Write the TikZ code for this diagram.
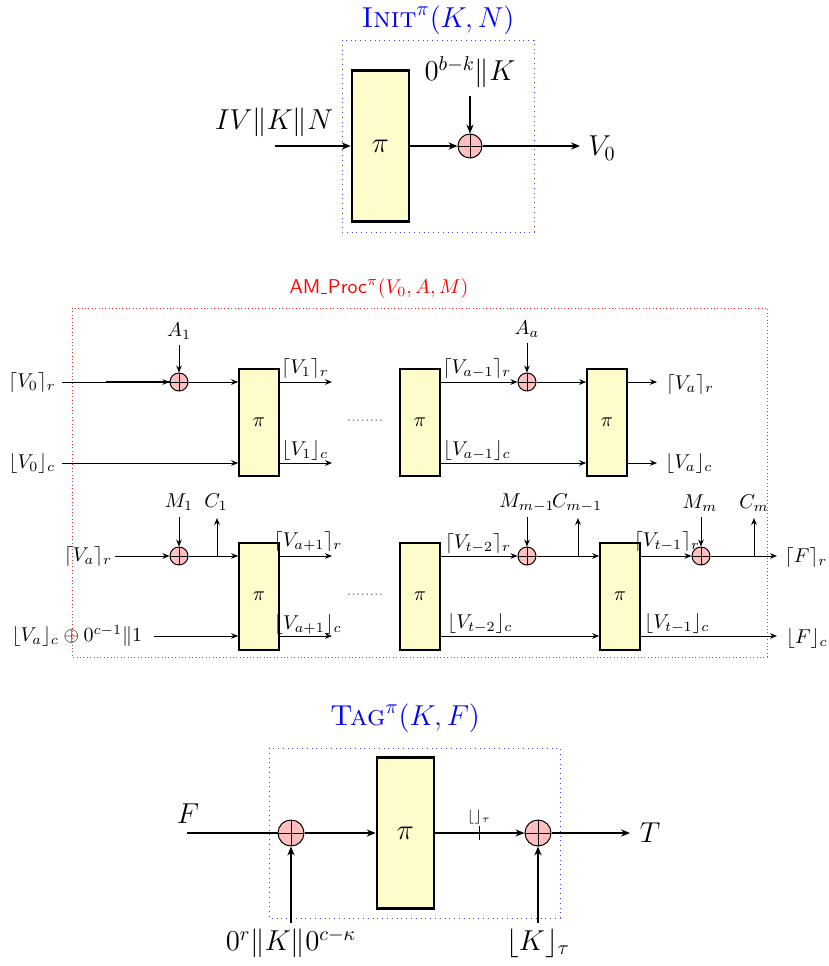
\documentclass[tikz,border=0pt]{standalone}
\usepackage{amsmath}
\usetikzlibrary{arrows.meta,calc}
\begin{document}
\begin{tikzpicture}[x=0.5pt,y=-0.5pt,
  >={Stealth[length=3.5pt,width=2.8pt]},
  pibig/.style={draw, line width=1.3pt, fill=yellow!20, minimum width=28.5pt, minimum height=75.5pt, inner sep=0pt, font=\Large},
  pismall/.style={draw, line width=0.8pt, fill=yellow!20, minimum width=20pt, minimum height=53.5pt, inner sep=0pt},
  xorbase/.style={circle, draw, line width=0.5pt, fill=red!25, inner sep=0pt,
    path picture={\draw[line width=0.5pt] (path picture bounding box.north) -- (path picture bounding box.south) (path picture bounding box.west) -- (path picture bounding box.east);}},
  xorbig/.style={xorbase, minimum size=12pt},
  xorsmall/.style={xorbase, minimum size=9pt},
  xortag/.style={xorbase, minimum size=13pt},
  bigconn/.style={->, line width=0.6pt, >={Stealth[length=4.5pt,width=3.6pt]}},
  bigline/.style={line width=0.6pt},
  conn/.style={->, line width=0.5pt},
  biglbl/.style={font=\Large, inner sep=1pt},
  lbl/.style={inner sep=1pt},
  bluebox/.style={draw=blue!75, line width=0.5pt, dash pattern=on 0.5pt off 1.9pt},
  redbox/.style={draw=red!85, line width=0.5pt, dash pattern=on 0.5pt off 1.2pt}
]
\useasboundingbox (0,0) rectangle (829,966);

% ================= INIT =================
\node[font=\Large, text=blue] (tI) at (438,20) {$\textsc{Init}^{\pi}(K,N)$};
\draw[bluebox] (342,40) rectangle (534,232);
\node[pibig] (piI) at (380.5,146) {$\pi$};
\coordinate (inI) at (275,146);
\node[biglbl] (lIn) at (274,122) {$IV\|K\|N$};
\draw[bigconn] (inI) -- (piI.west);
\node[xorbig] (xI) at (470,146) {};
\draw[bigconn] (piI.east) -- (xI.west);
\node[biglbl] (lK) at (470,72) {$0^{b-k}\|K$};
\coordinate (kI) at (470,96);
\draw[bigconn] (kI) -- (xI.north);
\coordinate (outI) at (580,146);
\draw[bigconn] (xI.east) -- (outI);
\node[biglbl] (lV0) at (602,148) {$V_0$};

% ================= AM_Proc =================
\node[text=red] (tA) at (379,288) {\textsf{AM\kern0.03em\rule[-0.15ex]{0.32em}{0.45pt}\kern0.03em Proc}$^{\pi}(V_0,A,M)$};
\draw[redbox] (72,308) rectangle (767,657);

% row 1
\node[pismall] (b1) at (259,422.5) {$\pi$};
\node[pismall] (b2) at (420,422.5) {$\pi$};
\node[pismall] (b3) at (607,422.5) {$\pi$};
\node[xorsmall] (x1) at (179,382) {};
\node[xorsmall] (x2) at (527,382) {};

\node[lbl] (lV0r) at (32,382) {$\lceil V_0\rceil_r$};
\node[lbl] (lV0c) at (32,463) {$\lfloor V_0\rfloor_c$};
\coordinate (r1in) at (62,382);
\coordinate (c1in) at (62,463);
\draw[conn] (r1in) -- (x1.west);
\draw[line width=0.7pt] (106,382) -- (x1.west);
\node[lbl] (lA1) at (179,331) {$A_1$};
\coordinate (a1) at (179,345);
\draw[conn] (a1) -- (x1.north);
\draw[conn] (x1.east) -- (x1 -| b1.west);
\draw[conn] (c1in) -- (c1in -| b1.west);
\coordinate (o1r) at (332,382);
\coordinate (o1c) at (332,463);
\draw[conn] (o1r -| b1.east) -- (o1r);
\draw[conn] (o1c -| b1.east) -- (o1c);
\node[lbl] (lV1r) at (305,368) {$\lceil V_1\rceil_r$};
\node[lbl] (lV1c) at (305,450) {$\lfloor V_1\rfloor_c$};
\node[font=\scriptsize, text=black!55] (dots1) at (365,421) {........};

\draw[conn] (x2 -| b2.east) -- (x2.west);
\node[lbl] (lVa1r) at (477,368) {$\lceil V_{a-1}\rceil_r$};
\node[lbl] (lAa) at (527,329) {$A_a$};
\coordinate (aa) at (527,343);
\draw[conn] (aa) -- (x2.north);
\draw[conn] (x2.east) -- (x2 -| b3.west);
\coordinate (c2) at (450,463);
\draw[conn] (c2 -| b2.east) -- (c2 -| b3.west);
\node[lbl] (lVa1c) at (477,450) {$\lfloor V_{a-1}\rfloor_c$};
\coordinate (o3r) at (657,382);
\coordinate (o3c) at (657,463);
\draw[conn] (o3r -| b3.east) -- (o3r);
\draw[conn] (o3c -| b3.east) -- (o3c);
\node[lbl] (lVar) at (690,384) {$\lceil V_a\rceil_r$};
\node[lbl] (lVac) at (689,463) {$\lfloor V_a\rfloor_c$};

% row 2
\node[pismall] (b4) at (259,596.5) {$\pi$};
\node[pismall] (b5) at (420,596.5) {$\pi$};
\node[pismall] (b6) at (620,596.5) {$\pi$};
\node[xorsmall] (x3) at (179,556) {};
\node[xorsmall] (x4) at (527,556) {};
\node[xorsmall] (x5) at (701,556) {};

\node[lbl] (lVar2) at (88,556) {$\lceil V_a\rceil_r$};
\coordinate (r2in) at (115,556);
\draw[conn] (r2in) -- (x3.west);
\node[lbl] (lM1) at (179,502) {$M_1$};
\coordinate (m1) at (179,517);
\draw[conn] (m1) -- (x3.north);
\node[lbl] (lC1) at (216,502) {$C_1$};
\coordinate (c1b) at (217,556);
\coordinate (c1t) at (217,518);
\draw[conn] (c1b) -- (c1t);
\draw[conn] (x3.east) -- (x3 -| b4.west);
\node[lbl] (lVac2) at (77,636) {$\lfloor V_a\rfloor_c\oplus 0^{c-1}\|1$};
\coordinate (c3in) at (154,636);
\draw[conn] (c3in) -- (c3in -| b4.west);
\coordinate (o4r) at (332,556);
\coordinate (o4c) at (332,636);
\draw[conn] (o4r -| b4.east) -- (o4r);
\draw[conn] (o4c -| b4.east) -- (o4c);
\node[lbl] (lVa1r2) at (308,541) {$\lceil V_{a+1}\rceil_r$};
\node[lbl] (lVa1c2) at (308,624) {$\lfloor V_{a+1}\rfloor_c$};
\node[font=\scriptsize, text=black!55] (dots2) at (365,595) {........};

\draw[conn] (x4 -| b5.east) -- (x4.west);
\node[lbl] (lVt2r) at (478,543) {$\lceil V_{t-2}\rceil_r$};
\node[lbl] (lMm1) at (527,503) {$M_{m-1}$};
\coordinate (mm1) at (527,517);
\draw[conn] (mm1) -- (x4.north);
\node[lbl] (lCm1) at (577,503) {$C_{m-1}$};
\coordinate (cm1b) at (578,556);
\coordinate (cm1t) at (578,518);
\draw[conn] (cm1b) -- (cm1t);
\draw[conn] (x4.east) -- (x4 -| b6.west);
\coordinate (c5) at (450,636);
\draw[conn] (c5 -| b5.east) -- (c5 -| b6.west);
\node[lbl] (lVt2c) at (480,623) {$\lfloor V_{t-2}\rfloor_c$};

\draw[conn] (x5 -| b6.east) -- (x5.west);
\node[lbl] (lVt1r) at (667,541) {$\lceil V_{t-1}\rceil_r$};
\node[lbl] (lMm) at (700,503) {$M_m$};
\coordinate (mm) at (701,517);
\draw[conn] (mm) -- (x5.north);
\node[lbl] (lCm) at (754,503) {$C_m$};
\coordinate (cmb) at (754,556);
\coordinate (cmt) at (754,518);
\draw[conn] (cmb) -- (cmt);
\coordinate (oFr) at (777,556);
\draw[conn] (x5.east) -- (oFr);
\node[lbl] (lFr) at (806,557) {$\lceil F\rceil_r$};
\coordinate (oFc) at (777,636);
\draw[conn] (oFc -| b6.east) -- (oFc);
\node[lbl] (lVt1c) at (677,623) {$\lfloor V_{t-1}\rfloor_c$};
\node[lbl] (lFc) at (807,638) {$\lfloor F\rfloor_c$};

% ================= TAG =================
\node[font=\Large, text=blue] (tT) at (405,718) {$\textsc{Tag}^{\pi}(K,F)$};
\draw[bluebox] (269,748) rectangle (560,918);
\node[pibig] (piT) at (405.5,833) {$\pi$};
\node[xortag] (xT1) at (291,833) {};
\node[xortag] (xT2) at (538,833) {};
\coordinate (Fin) at (187,833);
\node[biglbl] (lF) at (188,814) {$F$};
\draw[bigline] (Fin) -- (xT1.west);
\draw[bigconn] (xT1.east) -- (piT.west);
\draw[bigconn] (piT.east) -- (xT2.west);
\coordinate (tk1) at (479,826);
\coordinate (tk2) at (479,840);
\draw[line width=0.5pt] (tk1) -- (tk2);
\node[font=\scriptsize, inner sep=1pt] (ltk) at (479,817) {$\lfloor\rfloor_\tau$};
\coordinate (outT) at (630,833);
\draw[bigconn] (xT2.east) -- (outT);
\node[biglbl] (lT) at (650,833) {$T$};
\coordinate (inK1) at (291,923);
\coordinate (inK2) at (538,923);
\draw[bigconn] (inK1) -- (xT1.south);
\draw[bigconn] (inK2) -- (xT2.south);
\node[biglbl] (lK1) at (291,943) {$0^r\|K\|0^{c-\kappa}$};
\node[biglbl] (lK2) at (538,943) {$\lfloor K\rfloor_\tau$};
\end{tikzpicture}
\end{document}
